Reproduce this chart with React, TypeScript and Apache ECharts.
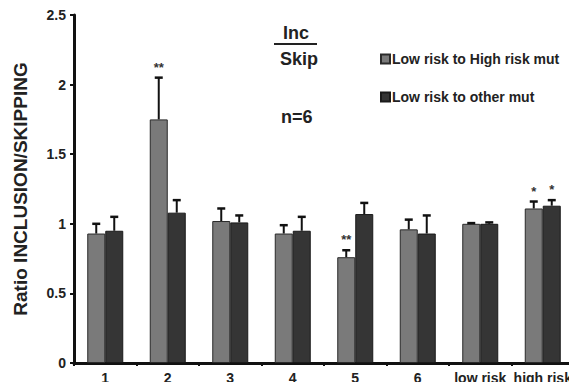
import React, { useEffect, useRef } from "react";
import * as echarts from "echarts";

const categories = ["1", "2", "3", "4", "5", "6", "low risk", "high risk"];
const highRiskMut = [0.93, 1.75, 1.02, 0.93, 0.76, 0.96, 1.0, 1.11];
const highRiskErr = [0.07, 0.3, 0.09, 0.06, 0.05, 0.07, 0.005, 0.05];
const otherMut = [0.95, 1.08, 1.01, 0.95, 1.07, 0.93, 1.0, 1.13];
const otherErr = [0.1, 0.09, 0.05, 0.1, 0.08, 0.13, 0.01, 0.04];
const highRiskStars = ["", "**", "", "", "**", "", "", "*"];
const otherStars = ["", "", "", "", "", "", "", "*"];
const yTicks = [0, 0.5, 1, 1.5, 2, 2.5];

const LIGHT = "#7a7a7a";
const DARK = "#353535";
const BAR_W = 18;

function errorSeries(values: number[], errs: number[], stars: string[], side: number) {
  return {
    type: "custom",
    silent: true,
    z: 5,
    data: values.map((v, i) => [i, v, errs[i]]),
    renderItem: (params: any, api: any) => {
      const i = api.value(0);
      const v = api.value(1);
      const e = api.value(2);
      const s = stars[i];
      const base = api.coord([i, v]);
      const top = api.coord([i, v + e]);
      const x = base[0] + side * (BAR_W / 2);
      const children: any[] = [
        {
          type: "line",
          shape: { x1: x, y1: base[1], x2: x, y2: top[1] },
          style: { stroke: "#111", lineWidth: 2 },
        },
        {
          type: "line",
          shape: { x1: x - 4, y1: top[1], x2: x + 4, y2: top[1] },
          style: { stroke: "#111", lineWidth: 2.5 },
        },
      ];
      if (s) {
        children.push({
          type: "text",
          style: {
            text: s,
            x: x,
            y: top[1] - 4,
            align: "center",
            verticalAlign: "bottom",
            fill: "#333",
            font: "bold 13px Arial",
          },
        });
      }
      return { type: "group", children };
    },
  };
}

export default function App() {
  const ref = useRef<HTMLDivElement>(null);
  useEffect(() => {
    if (!ref.current) return;
    const chart = echarts.init(ref.current, undefined, { renderer: "svg" });
    chart.setOption({
      animation: false,
      backgroundColor: "#fff",
      grid: { left: 74, right: 3, top: 15, bottom: 27 },
      legend: {
        orient: "vertical",
        left: 375,
        top: 47,
        itemGap: 24,
        itemWidth: 9,
        itemHeight: 9,
        icon: "rect",
        textStyle: { fontFamily: "Arial", fontWeight: "bold", fontSize: 14, color: "#222", padding: [0, 0, 0, -3] },
        data: ["Low risk to High risk mut", "Low risk to other mut"],
      },
      xAxis: {
        type: "category",
        data: categories,
        axisLine: { lineStyle: { color: "#111", width: 3 } },
        axisTick: { show: true, length: 3, lineStyle: { color: "#111", width: 2 } },
        axisLabel: { interval: 0, fontFamily: "Arial", fontWeight: "bold", fontSize: 14, color: "#222", margin: 8 },
      },
      yAxis: {
        type: "value",
        min: 0,
        max: 2.5,
        interval: 0.5,
        name: "Ratio INCLUSION/SKIPPING",
        nameLocation: "middle",
        nameGap: 44,
        nameTextStyle: { fontFamily: "Arial", fontWeight: "bold", fontSize: 19, color: "#222" },
        splitLine: { show: false },
        axisLine: { show: true, lineStyle: { color: "#111", width: 3 } },
        axisTick: { show: true, length: 4, lineStyle: { color: "#111", width: 2 } },
        axisLabel: {
          fontFamily: "Arial",
          fontWeight: "bold",
          fontSize: 14,
          color: "#222",
          margin: 8,
          formatter: (v: number) => (yTicks.includes(v) ? String(v) : ""),
        },
      },
      series: [
        {
          name: "Low risk to High risk mut",
          type: "bar",
          data: highRiskMut,
          barWidth: BAR_W,
          barGap: "0%",
          itemStyle: { color: LIGHT, borderColor: "#2a2a2a", borderWidth: 1 },
        },
        {
          name: "Low risk to other mut",
          type: "bar",
          data: otherMut,
          barWidth: BAR_W,
          barGap: "0%",
          itemStyle: { color: DARK, borderColor: "#1a1a1a", borderWidth: 1 },
        },
        errorSeries(highRiskMut, highRiskErr, highRiskStars, -1),
        errorSeries(otherMut, otherErr, otherStars, 1),
      ],
      graphic: [
        {
          type: "text",
          left: 283,
          top: 24,
          style: { text: "Inc", font: "bold 18px Arial", fill: "#222" },
        },
        {
          type: "line",
          shape: { x1: 274, y1: 44, x2: 317, y2: 44 },
          style: { stroke: "#222", lineWidth: 2 },
        },
        {
          type: "text",
          left: 280,
          top: 50,
          style: { text: "Skip", font: "bold 18px Arial", fill: "#222" },
        },
        {
          type: "text",
          left: 281,
          top: 108,
          style: { text: "n=6", font: "bold 18px Arial", fill: "#222" },
        },
      ],
    });
    return () => chart.dispose();
  }, []);
  return <div ref={ref} style={{ width: 577, height: 390, margin: -8 }} />;
}
